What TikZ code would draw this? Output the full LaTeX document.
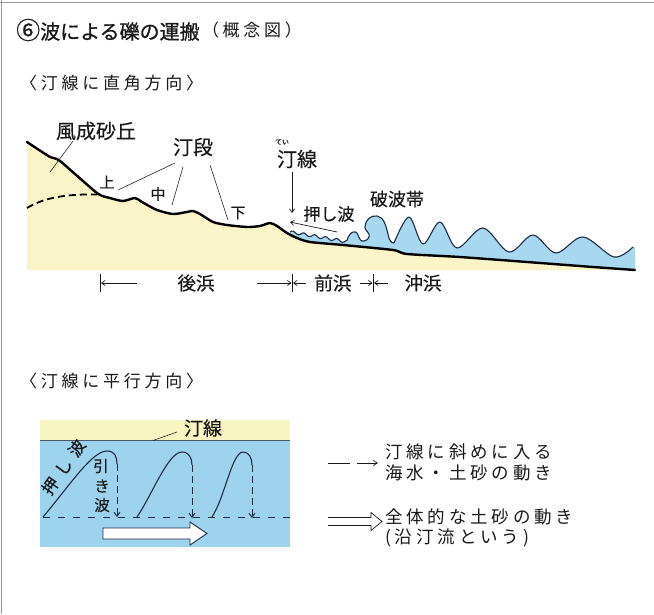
\documentclass[tikz,border=0pt]{standalone}
\usepackage{fontspec}
\setmainfont{Noto Sans CJK JP}[FakeBold=0.35]
\newfontfamily\jptitle[FakeBold=0.9]{Noto Sans CJK JP}
\newfontfamily\jpwide[LetterSpace=22]{Noto Sans CJK JP}
\newfontfamily\jpslant[LetterSpace=40,FakeBold=0.35]{Noto Sans CJK JP}
\usetikzlibrary{arrows.meta}
\definecolor{sand}{RGB}{250,245,200}
\definecolor{sea}{RGB}{168,216,240}
\definecolor{sealow}{RGB}{158,211,238}
\definecolor{shore}{RGB}{248,245,195}
\definecolor{wave}{RGB}{30,45,70}
\definecolor{ink}{RGB}{25,25,25}
\definecolor{frame}{RGB}{150,150,158}
% water surface in the cross-section: swash ripples, a small bore,
% the plunging breaker and the train of waves offshore
\def\surface{(290,232)
  -- plot[domain=0:57,samples=90] ({290+\x},{232+0.17*\x-1.4*sin(\x*32.73)})
  .. controls (349,233) and (355,228) .. (358,235)
  .. controls (359.5,239) and (361,242) .. (364,241)
  .. controls (368,240) and (370,237) .. (369,234)
  .. controls (368,231) and (365,231) .. (365,227)
  .. controls (365,220) and (371,215) .. (377,216)
  .. controls (384,217) and (386,226) .. (388,234)
  .. controls (389,240) and (391,243) .. (394,243)
  -- plot[smooth,tension=0.55] coordinates {(394,243) (409,217) (423,244) (440,222)
     (457,248) (483,228) (509,252) (533,235) (556,253) (583,237) (614,257) (633,247)}}
\begin{document}
\begin{tikzpicture}[x=1pt,y=-1pt,
  txt/.style={inner sep=0pt, text=ink, font=\fontsize{#1}{#1}\selectfont},
  txt/.default=18,
  stxt/.style={inner sep=0pt, text=ink, font=\jpwide\fontsize{#1}{#1}\selectfont},
  stxt/.default=17,
  leader/.style={draw=ink, line width=0.55pt},
  thinarrow/.style={draw=ink, line width=0.7pt, -{Straight Barb[length=3.5pt,width=5pt]}},
  tick/.style={draw=ink, line width=0.7pt},
  ground/.style={draw=black, line width=2.4pt, line cap=round, line join=round},
  waveline/.style={draw=wave, line width=1.1pt, line join=round},
  swash/.style={draw=wave, line width=1pt, dash pattern=on 7pt off 4pt,
    -{Straight Barb[length=4pt,width=6pt]}},
]
\useasboundingbox (0,0) rectangle (654,614);
\fill[white] (0,0) rectangle (654,614);
\draw[frame, line width=1.2pt] (0,2.5) -- (654,2.5);
\draw[frame, line width=1.2pt] (1.5,0) -- (1.5,614);

% ---------- title and first heading ----------
\node[inner sep=0pt, text=ink, anchor=west, font=\jptitle\fontsize{20}{20}\selectfont]
  (title) at (16,30) {\fontsize{24}{24}\selectfont ⑥\fontsize{20}{20}\selectfont 波による礫の運搬};
\node[stxt=17, anchor=west] (titlesub) at ([xshift=2pt]title.east) {（概念図）};
\node[stxt=17, anchor=west] (headA) at (20,83) {〈汀線に直角方向〉};

% ---------- cross-section perpendicular to the shoreline ----------
\fill[sea] \surface -- (635,247) -- (635,270)
  -- plot[smooth,tension=0.4] coordinates {(635,270) (593,267) (527,262) (460,257)
     (407,254) (393,250) (343,245) (310,242) (297,238) (290,233)} -- cycle;
\fill[sand] plot[smooth,tension=0.4] coordinates {(27,142) (50,157) (60,161) (97,193)
   (110,198) (123,201) (135,198) (142,202) (157,210) (173,214) (187,212) (193,211)
   (200,214) (213,222) (227,225) (247,227) (260,226) (270,223) (277,226) (287,233)
   (297,238) (310,242) (343,245) (393,250) (407,254) (460,257) (527,262) (593,267)
   (635,270)} -- (27,270) -- cycle;
\draw[waveline] \surface;
\draw[ground] plot[smooth,tension=0.4] coordinates {(27,142) (50,157) (60,161) (97,193)
   (110,198) (123,201) (135,198) (142,202) (157,210) (173,214) (187,212) (193,211)
   (200,214) (213,222) (227,225) (247,227) (260,226) (270,223) (277,226) (287,233)
   (297,238) (310,242) (343,245) (393,250) (407,254) (460,257) (527,262) (593,267)
   (635,270)};
% base of the dune
\draw[black, line width=1.8pt, dash pattern=on 7pt off 4pt]
  (27,208) .. controls (45,197) and (68,194) .. (97,194.5);

% labels and leaders
\node[txt=20] (dune) at (96,131) {風成砂丘};
\coordinate (duneA) at (73,141);
\coordinate (duneB) at (50,172);
\draw[leader] (duneA) -- (duneB);

\node[txt=20] (berm) at (193,147) {汀段};
\coordinate (bermA) at (175,163);
\coordinate (bermB) at (183,167);
\coordinate (bermC) at (210,165);
\coordinate (bermU) at (118,190);
\coordinate (bermM) at (172,205);
\coordinate (bermL) at (228,220);
\draw[leader] (bermA) -- (bermU);
\draw[leader] (bermB) -- (bermM);
\draw[leader] (bermC) -- (bermL);
\node[txt=15] (upper) at (107,182) {上};
\node[txt=15] (middle) at (158,194) {中};
\node[txt=15] (lower) at (238,213) {下};

\node[txt=7] (ruby) at (282,142) {てい};
\node[txt=20] (shoreA) at (297,159) {汀線};
\coordinate (shoreTop) at (292,172);
\coordinate (shoreTip) at (292,213);
\draw[thinarrow] (shoreTop) -- (shoreTip);
\node[txt=17] (swashA) at (329,214) {押し波};
\coordinate (swashS) at (337,232);
\coordinate (swashE) at (290,222);
\draw[thinarrow] (swashS) -- (swashE);
\node[txt=18] (breaker) at (397,199) {破波帯};

% zones
\coordinate (z1) at (100,283);
\coordinate (z2) at (292,283);
\coordinate (z3) at (373,283);
\draw[tick] (z1) ++(0,-9) -- ++(0,18);
\draw[tick] (z2) ++(0,-9) -- ++(0,18);
\draw[tick] (z3) ++(0,-9) -- ++(0,18);
\coordinate (a1) at (137,283);
\coordinate (a2) at (257,283);
\coordinate (a3) at (306,283);
\coordinate (a4) at (360,283);
\coordinate (a5) at (388,283);
\draw[thinarrow] (a1) -- ([xshift=1pt]z1);
\draw[thinarrow] (a2) -- ([xshift=-0.5pt]z2);
\draw[thinarrow] (a3) -- ([xshift=1pt]z2);
\draw[thinarrow] (a4) -- ([xshift=-0.5pt]z3);
\draw[thinarrow] (a5) -- ([xshift=1pt]z3);
\node[txt=18.5] (backshore) at (196,283) {後浜};
\node[txt=18.5] (foreshore) at (333,283) {前浜};
\node[txt=18.5] (offshore) at (423,283) {沖浜};

% ---------- plan view parallel to the shoreline ----------
\node[stxt=17, anchor=west] (headB) at (20,381) {〈汀線に平行方向〉};

\fill[shore] (40,420) rectangle (290,440);
\fill[sealow] (40,440) rectangle (290,547);
\coordinate (sl1) at (40,440);
\coordinate (sl2) at (290,440);
\draw[draw=wave!80, line width=0.8pt] (sl1) -- (sl2);
\node[txt=19] (shoreB) at (203,428) {汀線};
\coordinate (shoreBa) at (177,432);
\coordinate (shoreBb) at (153,440.5);
\draw[leader] (shoreBa) -- (shoreBb);

\coordinate (d1) at (40,517);
\coordinate (d2) at (290,517);
\draw[draw=wave, line width=1pt, dash pattern=on 7pt off 8pt, dash phase=-3pt] (d1) -- (d2);

% swash and backwash paths
\coordinate (w1a) at (43,517);  \coordinate (w1b) at (117,464); \coordinate (w1c) at (117,517);
\coordinate (w2a) at (137,517); \coordinate (w2b) at (192,465); \coordinate (w2c) at (192,518);
\coordinate (w3a) at (212,517); \coordinate (w3b) at (252,465); \coordinate (w3c) at (252,518);
\draw[waveline] (w1a) .. controls (70,485) and (92,451) .. (107,451)
  .. controls (115,451) and (117,457) .. (w1b);
\draw[waveline] (w2a) .. controls (152,495) and (168,452) .. (182,452)
  .. controls (189,452) and (192,458) .. (w2b);
\draw[waveline] (w3a) .. controls (225,497) and (232,452) .. (243,452)
  .. controls (249,452) and (252,458) .. (w3b);
\draw[swash] (w1b) -- (w1c);
\draw[swash] (w2b) -- (w2c);
\draw[swash] (w3b) -- (w3c);

\node[inner sep=0pt, text=ink, rotate=55, font=\jpslant\fontsize{16.5}{16.5}\selectfont]
  (push) at (63.5,467) {押し波};
\node[txt=15.5] (back1) at (101,466) {引};
\node[txt=15.5] (back2) at (102,486) {き};
\node[txt=15.5] (back3) at (102,505) {波};

% net longshore drift
\draw[draw=wave, line width=0.9pt, fill=white, line join=miter]
  (103,528) -- (190,528) -- (190,522) -- (207,533.5) -- (190,545) -- (190,539)
  -- (103,539) -- cycle;

% ---------- legend ----------
\coordinate (la1) at (328,463);
\coordinate (la2) at (378,463);
\draw[draw=ink, line width=0.7pt, dash pattern=on 22pt off 7pt on 30pt,
  -{Straight Barb[length=4pt,width=5pt]}] (la1) -- (la2);
\coordinate (lb1) at (328,517.5);
\coordinate (lb2) at (328,525.5);
\draw[draw=ink, line width=0.7pt, line join=miter]
  (lb1) -- (371,517.5) -- (371,512.5) -- (382,521.5) -- (371,530.5) -- (371,525.5) -- (lb2);
\node[stxt=17.5, anchor=west] (leg1) at (385,452) {汀線に斜めに入る};
\node[stxt=17.5, anchor=west] (leg2) at (385,473) {海水・土砂の動き};
\node[stxt=17.5, anchor=west] (leg3) at (385,517) {全体的な土砂の動き};
\node[stxt=17.5, anchor=west] (leg4) at (385,538) {(沿汀流という)};
\end{tikzpicture}
\end{document}
